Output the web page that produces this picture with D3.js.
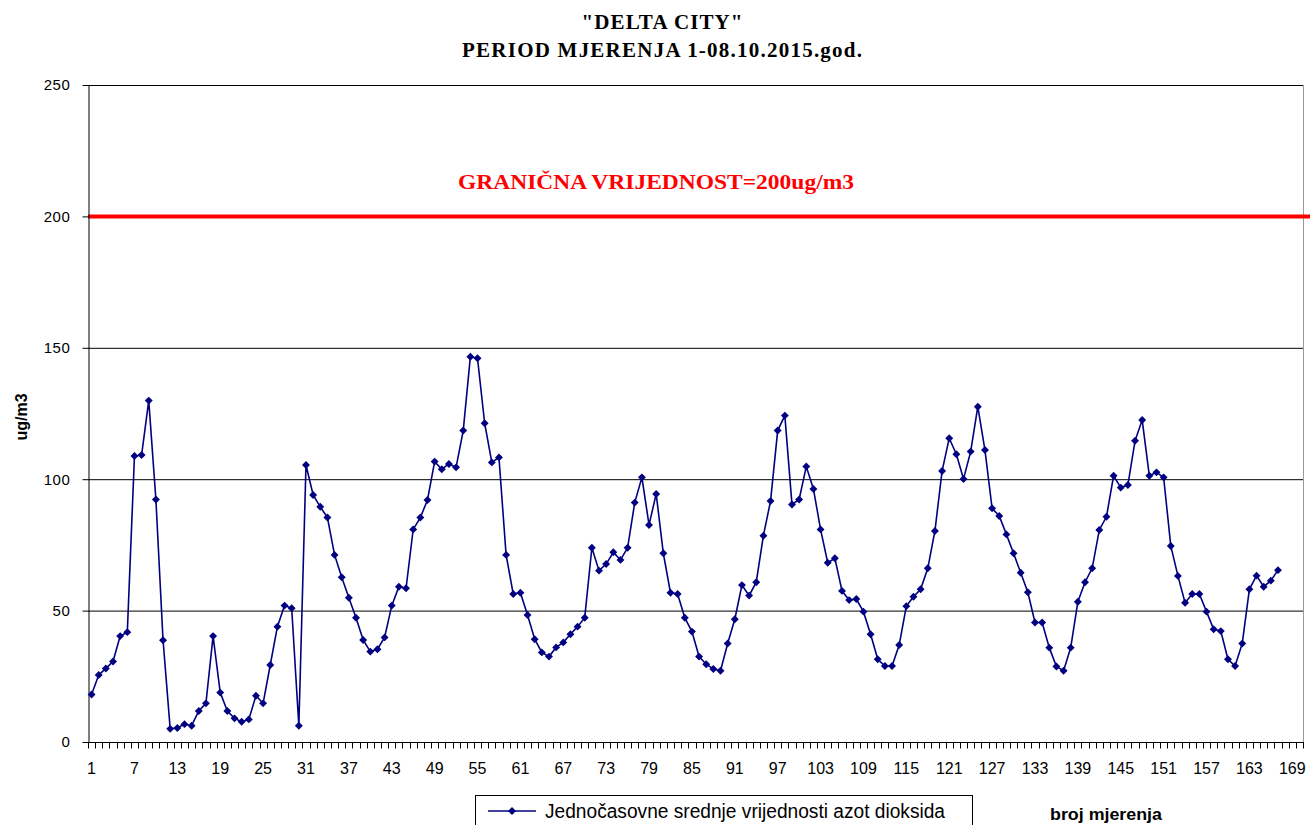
<!DOCTYPE html>
<html>
<head>
<meta charset="utf-8">
<script src="https://cdn.jsdelivr.net/npm/d3@7"></script>
<style>
  html, body { margin: 0; padding: 0; background: #fff; }
  svg { display: block; }
</style>
</head>
<body>
<svg id="chart" width="1310" height="825"></svg>
<script>
// ---- data ----
const titleLines = ['"DELTA CITY"', 'PERIOD MJERENJA 1-08.10.2015.god.'];
const seriesName = "Jednočasovne srednje vrijednosti azot dioksida";
const limitValue = 200;
const limitLabel = "GRANIČNA VRIJEDNOST=200ug/m3";
const yTicks = [0, 50, 100, 150, 200, 250];
const gridValues = [50, 100, 150, 250];
const categories = d3.range(1, 171);            // category axis 1..170
const xTickLabels = d3.range(1, 170, 6);        // 1, 7, 13, ... 169
const values = [
  18.1, 25.5, 28.0, 30.6, 40.3, 41.8, 108.8, 109.2, 129.9, 92.3,
  38.7, 5.0, 5.3, 6.8, 6.2, 11.8, 14.7, 40.3, 18.8, 11.8,
  9.0, 7.7, 8.6, 17.6, 14.7, 29.3, 43.9, 51.9, 50.9, 6.2,
  105.4, 94.0, 89.5, 85.4, 71.2, 62.7, 54.9, 47.3, 38.8, 34.4,
  35.3, 39.8, 51.9, 59.1, 58.5, 80.9, 85.4, 92.1, 106.7, 103.8,
  105.8, 104.5, 118.5, 146.6, 146.0, 121.3, 106.4, 108.3, 71.2, 56.3,
  56.8, 48.3, 39.1, 34.1, 32.5, 36.0, 37.9, 41.0, 43.9, 47.3,
  73.9, 65.2, 67.7, 72.2, 69.3, 73.9, 91.1, 100.7, 82.6, 94.4,
  71.8, 56.8, 56.3, 47.3, 42.0, 32.5, 29.6, 27.8, 27.1, 37.5,
  46.7, 59.7, 55.7, 60.8, 78.5, 91.7, 118.5, 124.2, 90.4, 92.3,
  104.8, 96.3, 80.9, 68.2, 69.9, 57.5, 54.0, 54.4, 49.6, 41.0,
  31.5, 28.9, 28.9, 36.9, 51.7, 55.3, 58.1, 66.1, 80.3, 103.1,
  115.6, 109.5, 100.1, 110.5, 127.6, 111.1, 88.9, 86.0, 79.0, 71.8,
  64.4, 57.0, 45.5, 45.5, 35.9, 28.7, 27.1, 35.9, 53.4, 60.8,
  66.1, 80.7, 85.7, 101.3, 96.8, 97.8, 114.6, 122.5, 101.3, 102.6,
  100.7, 74.6, 63.2, 53.0, 56.3, 56.3, 49.6, 42.9, 42.2, 31.5,
  28.9, 37.5, 58.1, 63.3, 59.1, 61.4, 65.4
];

// ---- layout ----
const svg = d3.select("#chart");
const plot = { left: 88, right: 1303, top: 85, bottom: 742 };
const narrow = "Liberation Sans Narrow, Arial Narrow, Liberation Sans, Arial, sans-serif";

const x = d3.scaleBand().domain(categories).range([plot.left, plot.right]).padding(0);
const y = d3.scaleLinear().domain([0, 250]).range([plot.bottom, plot.top]);
const cx = c => x(c) + x.bandwidth() / 2;

// title
svg.append("g").selectAll("text").data(titleLines).join("text")
  .attr("x", 662).attr("y", (d, i) => 29 + i * 28)
  .attr("text-anchor", "middle")
  .attr("font-family", "Liberation Serif, Times New Roman, serif")
  .attr("font-weight", "bold").attr("font-size", 21)
  .attr("textLength", (d, i) => i === 0 ? 161 : 400)
  .attr("lengthAdjust", "spacing")
  .text(d => d);

// gridlines
svg.append("g").selectAll("line").data(gridValues).join("line")
  .attr("x1", plot.left).attr("x2", plot.right)
  .attr("y1", d => y(d) + 0.5).attr("y2", d => y(d) + 0.5)
  .attr("stroke", "#000").attr("stroke-width", 1);

// right border
svg.append("line")
  .attr("x1", plot.right + 0.5).attr("x2", plot.right + 0.5)
  .attr("y1", plot.top).attr("y2", plot.bottom)
  .attr("stroke", "#999").attr("stroke-width", 1);

// limit line
svg.append("line")
  .attr("x1", plot.left).attr("x2", 1310)
  .attr("y1", y(limitValue)).attr("y2", y(limitValue))
  .attr("stroke", "#ff0000").attr("stroke-width", 4);

svg.append("text")
  .attr("x", 458).attr("y", 189)
  .attr("fill", "#ff0000")
  .attr("font-family", "Liberation Serif, Times New Roman, serif")
  .attr("font-weight", "bold").attr("font-size", 21)
  .attr("textLength", 396).attr("lengthAdjust", "spacingAndGlyphs")
  .text(limitLabel);

// y axis
const yAxis = svg.append("g")
  .attr("transform", `translate(${plot.left + 0.5},0)`)
  .call(d3.axisLeft(y).tickValues(yTicks).tickSize(6).tickPadding(12).tickSizeOuter(0));
yAxis.select(".domain").attr("stroke", "#000");
yAxis.selectAll("text")
  .attr("font-family", "Liberation Sans, Arial, sans-serif")
  .attr("font-size", 15).attr("letter-spacing", 0.6).attr("fill", "#000");

// x axis: tick marks at category boundaries
const xAxisG = svg.append("g").attr("transform", `translate(0,${plot.bottom + 0.5})`);
xAxisG.append("line")
  .attr("x1", plot.left).attr("x2", plot.right + 1)
  .attr("stroke", "#000");
xAxisG.selectAll("line.tk").data(categories.concat([null])).join("line")
  .attr("class", "tk")
  .attr("x1", d => d === null ? plot.right + 0.5 : Math.round(x(d)) + 0.5)
  .attr("x2", d => d === null ? plot.right + 0.5 : Math.round(x(d)) + 0.5)
  .attr("y1", 0).attr("y2", 6)
  .attr("stroke", "#000");
// x labels via axis
const xLab = svg.append("g")
  .attr("transform", `translate(0,${plot.bottom})`)
  .call(d3.axisBottom(x).tickValues(xTickLabels).tickSize(0).tickPadding(21));
xLab.select(".domain").remove();
xLab.selectAll("text")
  .attr("font-family", narrow)
  .attr("font-size", 16).attr("fill", "#000");

// y axis title
svg.append("text")
  .attr("transform", "translate(27,417) rotate(-90)")
  .attr("text-anchor", "middle")
  .attr("font-family", narrow)
  .attr("font-weight", "bold").attr("font-size", 16)
  .text("ug/m3");

// series line
const data = values.map((v, i) => ({ c: categories[i], v }));
const line = d3.line().x(d => cx(d.c)).y(d => y(d.v));
svg.append("path").datum(data)
  .attr("d", line)
  .attr("fill", "none").attr("stroke", "#000080").attr("stroke-width", 1.6);

const diamond = d3.symbol().type(d3.symbolDiamond2).size(40);
svg.append("g").selectAll("path").data(data).join("path")
  .attr("transform", d => `translate(${cx(d.c)},${y(d.v)})`)
  .attr("d", diamond)
  .attr("fill", "#000080");

// legend
const lg = svg.append("g");
lg.append("rect")
  .attr("x", 475.5).attr("y", 795.5).attr("width", 497).attr("height", 40)
  .attr("fill", "#fff").attr("stroke", "#000");
lg.append("line")
  .attr("x1", 488).attr("x2", 536).attr("y1", 811).attr("y2", 811)
  .attr("stroke", "#000080").attr("stroke-width", 1.6);
lg.append("path")
  .attr("transform", "translate(512,811)")
  .attr("d", diamond).attr("fill", "#000080");
lg.append("text")
  .attr("x", 545).attr("y", 818)
  .attr("font-family", narrow)
  .attr("font-size", 20).attr("fill", "#000")
  .attr("textLength", 400).attr("lengthAdjust", "spacingAndGlyphs")
  .text(seriesName);

svg.append("text")
  .attr("x", 1050).attr("y", 820)
  .attr("font-family", narrow)
  .attr("font-weight", "bold").attr("font-size", 16)
  .attr("textLength", 112).attr("lengthAdjust", "spacingAndGlyphs")
  .text("broj mjerenja");
</script>
</body>
</html>
